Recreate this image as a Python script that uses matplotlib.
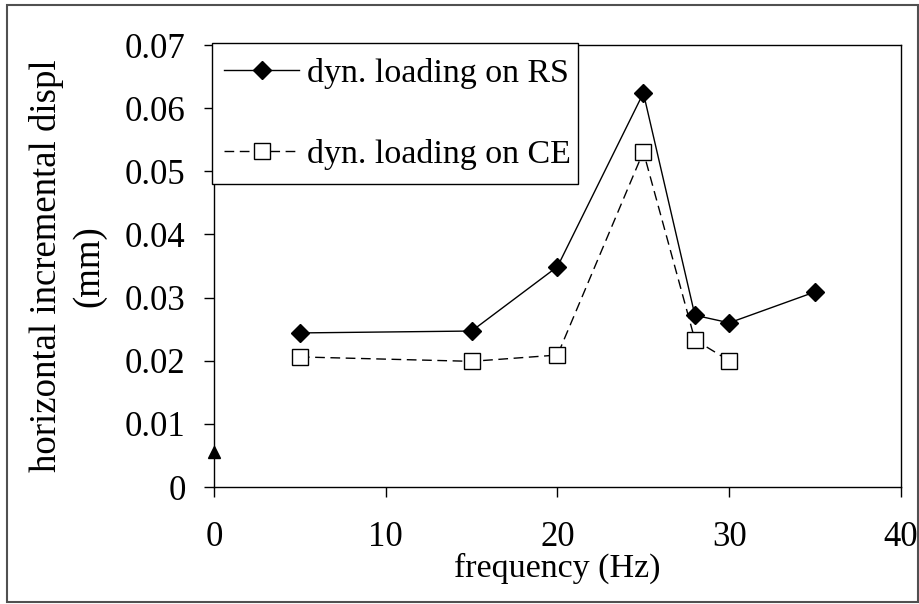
import matplotlib
matplotlib.use("Agg")
import matplotlib.pyplot as plt
from matplotlib.patches import Rectangle

freq_rs = [5, 15, 20, 25, 28, 30, 35]
disp_rs = [0.0244, 0.0247, 0.0349, 0.0624, 0.0272, 0.0260, 0.0309]

freq_ce = [5, 15, 20, 25, 28, 30]
disp_ce = [0.0206, 0.0199, 0.0209, 0.0531, 0.0233, 0.0200]

freq_static = [0]
disp_static = [0.0055]

x_ticks = [0, 10, 20, 30, 40]
y_ticks = [0, 0.01, 0.02, 0.03, 0.04, 0.05, 0.06, 0.07]
y_labels = ["0", "0.01", "0.02", "0.03", "0.04", "0.05", "0.06", "0.07"]

plt.rcParams['font.family'] = ['Liberation Serif', 'DejaVu Serif']

fig = plt.figure(figsize=(9.2, 6.04), dpi=100)
W, H = 920, 604
ax = fig.add_axes([214 / W, 1 - 487 / H, (901 - 214) / W, (487 - 45) / H])

ax.plot(freq_rs, disp_rs, color='black', lw=1.0, marker='D', markersize=9.5,
        markerfacecolor='black', label='dyn. loading on RS', zorder=3)
ce_line, = ax.plot(freq_ce, disp_ce, color='black', lw=1.0, marker='s', markersize=12,
                   markerfacecolor='white', markeredgewidth=1.0,
                   label='dyn. loading on CE', zorder=3)
ce_line.set_dashes([7, 4])
ax.plot(freq_static, disp_static, linestyle='none', marker='^', markersize=9,
        color='black', zorder=4, clip_on=False)

ax.set_xlim(0, 40)
ax.set_ylim(0, 0.07)
ax.set_xticks(x_ticks)
ax.set_xticklabels([str(t) for t in x_ticks])
ax.set_yticks(y_ticks)
ax.set_yticklabels(y_labels)
ax.tick_params(direction='out', length=7.5, width=1.0, labelsize=25)
ax.tick_params(axis='x', pad=17)
ax.tick_params(axis='y', pad=13)
for s in ax.spines.values():
    s.set_linewidth(1.0)

ax.set_xlabel('frequency (Hz)', fontsize=24.5)
ax.xaxis.set_label_coords(0.5, -0.149)
ax.set_ylabel('horizontal incremental displ\n(mm)', fontsize=26.5, linespacing=1.3)
ax.yaxis.set_label_coords(-0.156, 0.5)

# legend box drawn separately so its padding can match the original
ax.add_patch(Rectangle((-0.003, 0.6855), 0.533, 0.319, transform=ax.transAxes,
                       facecolor='white', edgecolor='black', lw=1.0,
                       clip_on=False, zorder=4.5))
leg = ax.legend(loc='upper left', bbox_to_anchor=(0.015, 0.97), fontsize=24.5,
                frameon=False, handlelength=2.2, handletextpad=0.22, borderpad=0.0,
                labelspacing=1.45, borderaxespad=0.0)
leg.set_zorder(5)

fig.patches.append(Rectangle((7.5 / W, 1 - 602 / H), (918 - 7.5) / W, (602 - 5) / H,
                             transform=fig.transFigure, fill=False,
                             edgecolor='#505050', lw=1.5))

fig.savefig('out.png', dpi=100)
